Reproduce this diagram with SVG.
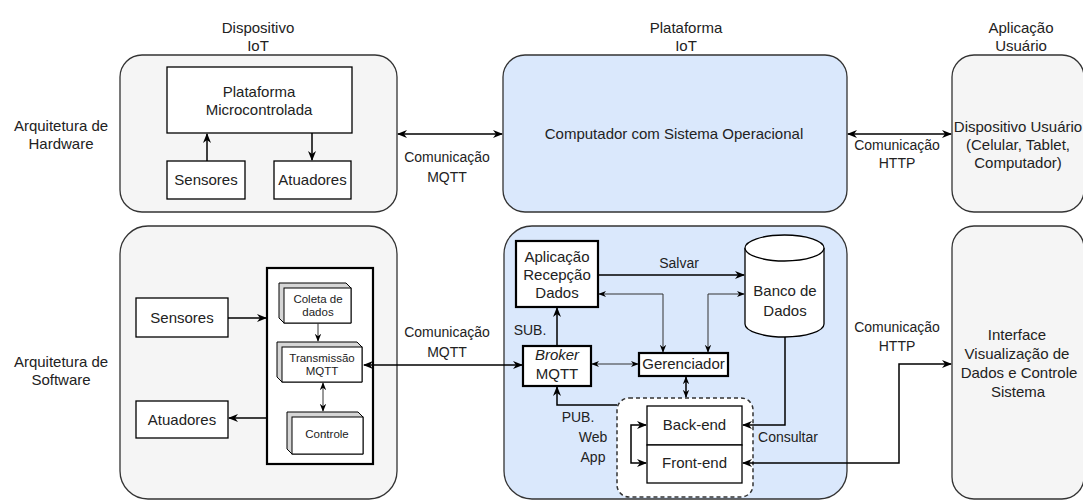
<svg xmlns="http://www.w3.org/2000/svg" width="1083" height="500" viewBox="0 0 1083 500">
<defs>
<marker id="a" viewBox="0 0 10 10" refX="9" refY="5" markerWidth="10" markerHeight="10" markerUnits="userSpaceOnUse" orient="auto-start-reverse"><path d="M0,1 L10,5 L0,9 L3,5 z" fill="#000"/></marker>
<marker id="s" viewBox="0 0 10 10" refX="9" refY="5" markerWidth="8" markerHeight="8" markerUnits="userSpaceOnUse" orient="auto-start-reverse"><path d="M0,1 L10,5 L0,9 L3,5 z" fill="#000"/></marker>
</defs>
<style>
text{font-family:"Liberation Sans",Arial,sans-serif;fill:#222;text-anchor:middle}
.t15{font-size:15px}
.t14{font-size:14px}
.t11{font-size:11.5px}
.gray{fill:#f5f5f5;stroke:#333;stroke-width:1.3}
.blue{fill:#dae8fc;stroke:#333;stroke-width:1.3}
.box{fill:#fff;stroke:#000;stroke-width:1.3}
.thick{fill:#fff;stroke:#000;stroke-width:2.2}
.face{fill:#d6d6d6;stroke:#000;stroke-width:1}
.front{fill:#fff;stroke:#000;stroke-width:1}
.c{fill:none;stroke:#000;stroke-width:1.5}
.cs{fill:none;stroke:#333;stroke-width:1}
</style>
<rect width="1083" height="500" fill="#fff"/>

<g id="row-labels">
<text class="t15" x="61" y="131">Arquitetura de</text>
<text class="t15" x="61" y="149">Hardware</text>
<text class="t15" x="61" y="367">Arquitetura de</text>
<text class="t15" x="61" y="385">Software</text>
</g>

<g id="col-labels">
<text class="t15" x="258" y="33">Dispositivo</text>
<text class="t15" x="258" y="51">IoT</text>
<text class="t15" x="686" y="33">Plataforma</text>
<text class="t15" x="686" y="51">IoT</text>
<text class="t15" x="1021" y="33">Aplicação</text>
<text class="t15" x="1021" y="51">Usuário</text>
</g>

<g id="containers">
<rect id="hw-device" class="gray" x="120" y="55" width="277" height="157" rx="22"/>
<rect id="hw-platform" class="blue" x="503" y="55" width="344" height="157" rx="22"/>
<rect id="hw-user" class="gray" x="952" y="55" width="132" height="157" rx="22"/>
<rect id="sw-device" class="gray" x="120" y="226" width="277" height="273" rx="28"/>
<rect id="sw-platform" class="blue" x="504" y="226" width="343" height="273" rx="28"/>
<rect id="sw-user" class="gray" x="952" y="226" width="132" height="273" rx="22"/>
</g>

<g id="hw-pm">
<rect class="box" x="167" y="67" width="185" height="66"/>
<text class="t15" x="259" y="97">Plataforma</text>
<text class="t15" x="259" y="115">Microcontrolada</text>
</g>
<g id="hw-sensores">
<rect class="box" x="167" y="161" width="78" height="38"/>
<text class="t15" x="206" y="185">Sensores</text>
</g>
<g id="hw-atuadores">
<rect class="box" x="274" y="161" width="77" height="38"/>
<text class="t15" x="312.5" y="185">Atuadores</text>
</g>
<g id="hw-computador">
<text class="t15" x="674" y="139">Computador com Sistema Operacional</text>
</g>
<g id="hw-dispositivo-usuario">
<text class="t15" x="1018" y="132">Dispositivo Usuário</text>
<text class="t15" x="1018" y="150">(Celular, Tablet,</text>
<text class="t15" x="1018" y="168">Computador)</text>
</g>

<g id="sw-sensores">
<rect class="box" x="136" y="298" width="92" height="39"/>
<text class="t15" x="182" y="323">Sensores</text>
</g>
<g id="sw-atuadores">
<rect class="box" x="136" y="401" width="92" height="37"/>
<text class="t15" x="182" y="425">Atuadores</text>
</g>
<g id="sw-firmware">
<rect class="thick" x="267" y="268" width="106" height="196"/>
</g>
<g id="sw-coleta">
<polygon class="face" points="279,283 346,283 351,288 351,323 284,323 279,318"/>
<rect class="front" x="284" y="288" width="67" height="35"/>
<text class="t11" x="318" y="303">Coleta de</text>
<text class="t11" x="318" y="316">dados</text>
</g>
<g id="sw-transmissao">
<polygon class="face" points="277,342 357,342 362,347 362,382 282,382 277,377"/>
<rect class="front" x="282" y="347" width="80" height="35"/>
<text class="t11" x="322" y="362">Transmissão</text>
<text class="t11" x="322" y="375">MQTT</text>
</g>
<g id="sw-controle">
<polygon class="face" points="287,412 358,412 363,417 363,454 292,454 287,449"/>
<rect class="front" x="292" y="417" width="71" height="37"/>
<text class="t11" x="327" y="438">Controle</text>
</g>

<g id="sw-aplicacao">
<rect class="thick" x="516" y="241" width="82" height="66"/>
<text class="t15" x="557" y="262">Aplicação</text>
<text class="t15" x="557" y="280">Recepção</text>
<text class="t15" x="557" y="298">Dados</text>
</g>
<g id="sw-broker">
<rect class="thick" x="523" y="346" width="68" height="40"/>
<text class="t15" x="557" y="360" font-style="italic">Broker</text>
<text class="t15" x="557" y="379">MQTT</text>
</g>
<g id="sw-gerenciador">
<rect class="thick" x="639" y="353" width="89" height="23"/>
<text class="t15" x="683.5" y="369">Gerenciador</text>
</g>
<g id="sw-banco">
<path class="box" d="M745,248 A39.5,13 0 0 1 824,248 L824,324 A39.5,13 0 0 1 745,324 Z"/>
<path class="box" fill="none" d="M745,248 A39.5,13 0 0 0 824,248"/>
<text class="t15" x="785" y="296">Banco de</text>
<text class="t15" x="785" y="316">Dados</text>
</g>
<g id="sw-webapp">
<rect x="617" y="398" width="136" height="99" rx="12" fill="#fff" stroke="#333" stroke-width="1.5" stroke-dasharray="4 3"/>
<rect class="box" x="647" y="406" width="95" height="39"/>
<text class="t15" x="694.5" y="430">Back-end</text>
<rect class="box" x="647" y="445" width="95" height="38"/>
<text class="t15" x="694.5" y="468">Front-end</text>
</g>
<g id="sw-interface">
<text class="t15" x="1017" y="340">Interface</text>
<text class="t15" x="1017" y="359">Visualização de</text>
<text class="t15" x="1019" y="378">Dados e Controle</text>
<text class="t15" x="1018" y="397">Sistema</text>
</g>

<g id="connectors">
<path class="c" d="M207,161 L207,134" marker-end="url(#a)"/>
<path class="c" d="M312,133 L312,160" marker-end="url(#a)"/>
<path class="c" d="M398,134 L502,134" marker-start="url(#a)" marker-end="url(#a)"/>
<path class="c" d="M848,134 L951,134" marker-start="url(#a)" marker-end="url(#a)"/>
<path class="c" d="M228,318 L266,318" marker-end="url(#a)"/>
<path class="c" d="M267,418 L229,418" marker-end="url(#a)"/>
<path class="cs" d="M318,323 L318,341" marker-end="url(#s)"/>
<path class="cs" d="M323,383 L323,411" marker-start="url(#s)" marker-end="url(#s)"/>
<path class="c" d="M364,365 L522,365" marker-start="url(#a)" marker-end="url(#a)"/>
<path class="c" d="M557,346 L557,308" marker-end="url(#a)"/>
<path class="c" d="M598,275 L744,275" marker-end="url(#a)"/>
<path class="cs" d="M599,294 L663,294 L663,352" marker-start="url(#s)" marker-end="url(#s)"/>
<path class="cs" d="M708,352 L708,294 L744,294" marker-start="url(#s)" marker-end="url(#s)"/>
<path class="cs" d="M592,364 L638,364" marker-start="url(#s)" marker-end="url(#s)"/>
<path class="c" d="M686,377 L686,397" marker-start="url(#s)" marker-end="url(#s)"/>
<path class="c" d="M617,405 L557,405 L557,387" marker-end="url(#a)"/>
<path class="c" d="M646,425 L631,425 L631,463 L646,463" marker-start="url(#a)" marker-end="url(#a)"/>
<path class="c" d="M785,337 L785,425 L743,425" marker-end="url(#a)"/>
<path class="c" d="M743,463 L899,463 L899,364 L951,364" marker-start="url(#a)" marker-end="url(#a)"/>
</g>

<g id="edge-labels">
<text class="t14" x="447" y="162">Comunicação</text>
<text class="t14" x="447" y="182">MQTT</text>
<text class="t14" x="897" y="150">Comunicação</text>
<text class="t14" x="897" y="168">HTTP</text>
<text class="t14" x="447" y="337">Comunicação</text>
<text class="t14" x="447" y="357">MQTT</text>
<text class="t14" x="897" y="332">Comunicação</text>
<text class="t14" x="897" y="351">HTTP</text>
<text class="t14" x="679" y="268">Salvar</text>
<text class="t14" x="530" y="335">SUB.</text>
<text class="t14" x="578" y="422">PUB.</text>
<text class="t14" x="593" y="442">Web</text>
<text class="t14" x="593" y="462">App</text>
<text class="t14" x="788" y="442">Consultar</text>
</g>
</svg>
